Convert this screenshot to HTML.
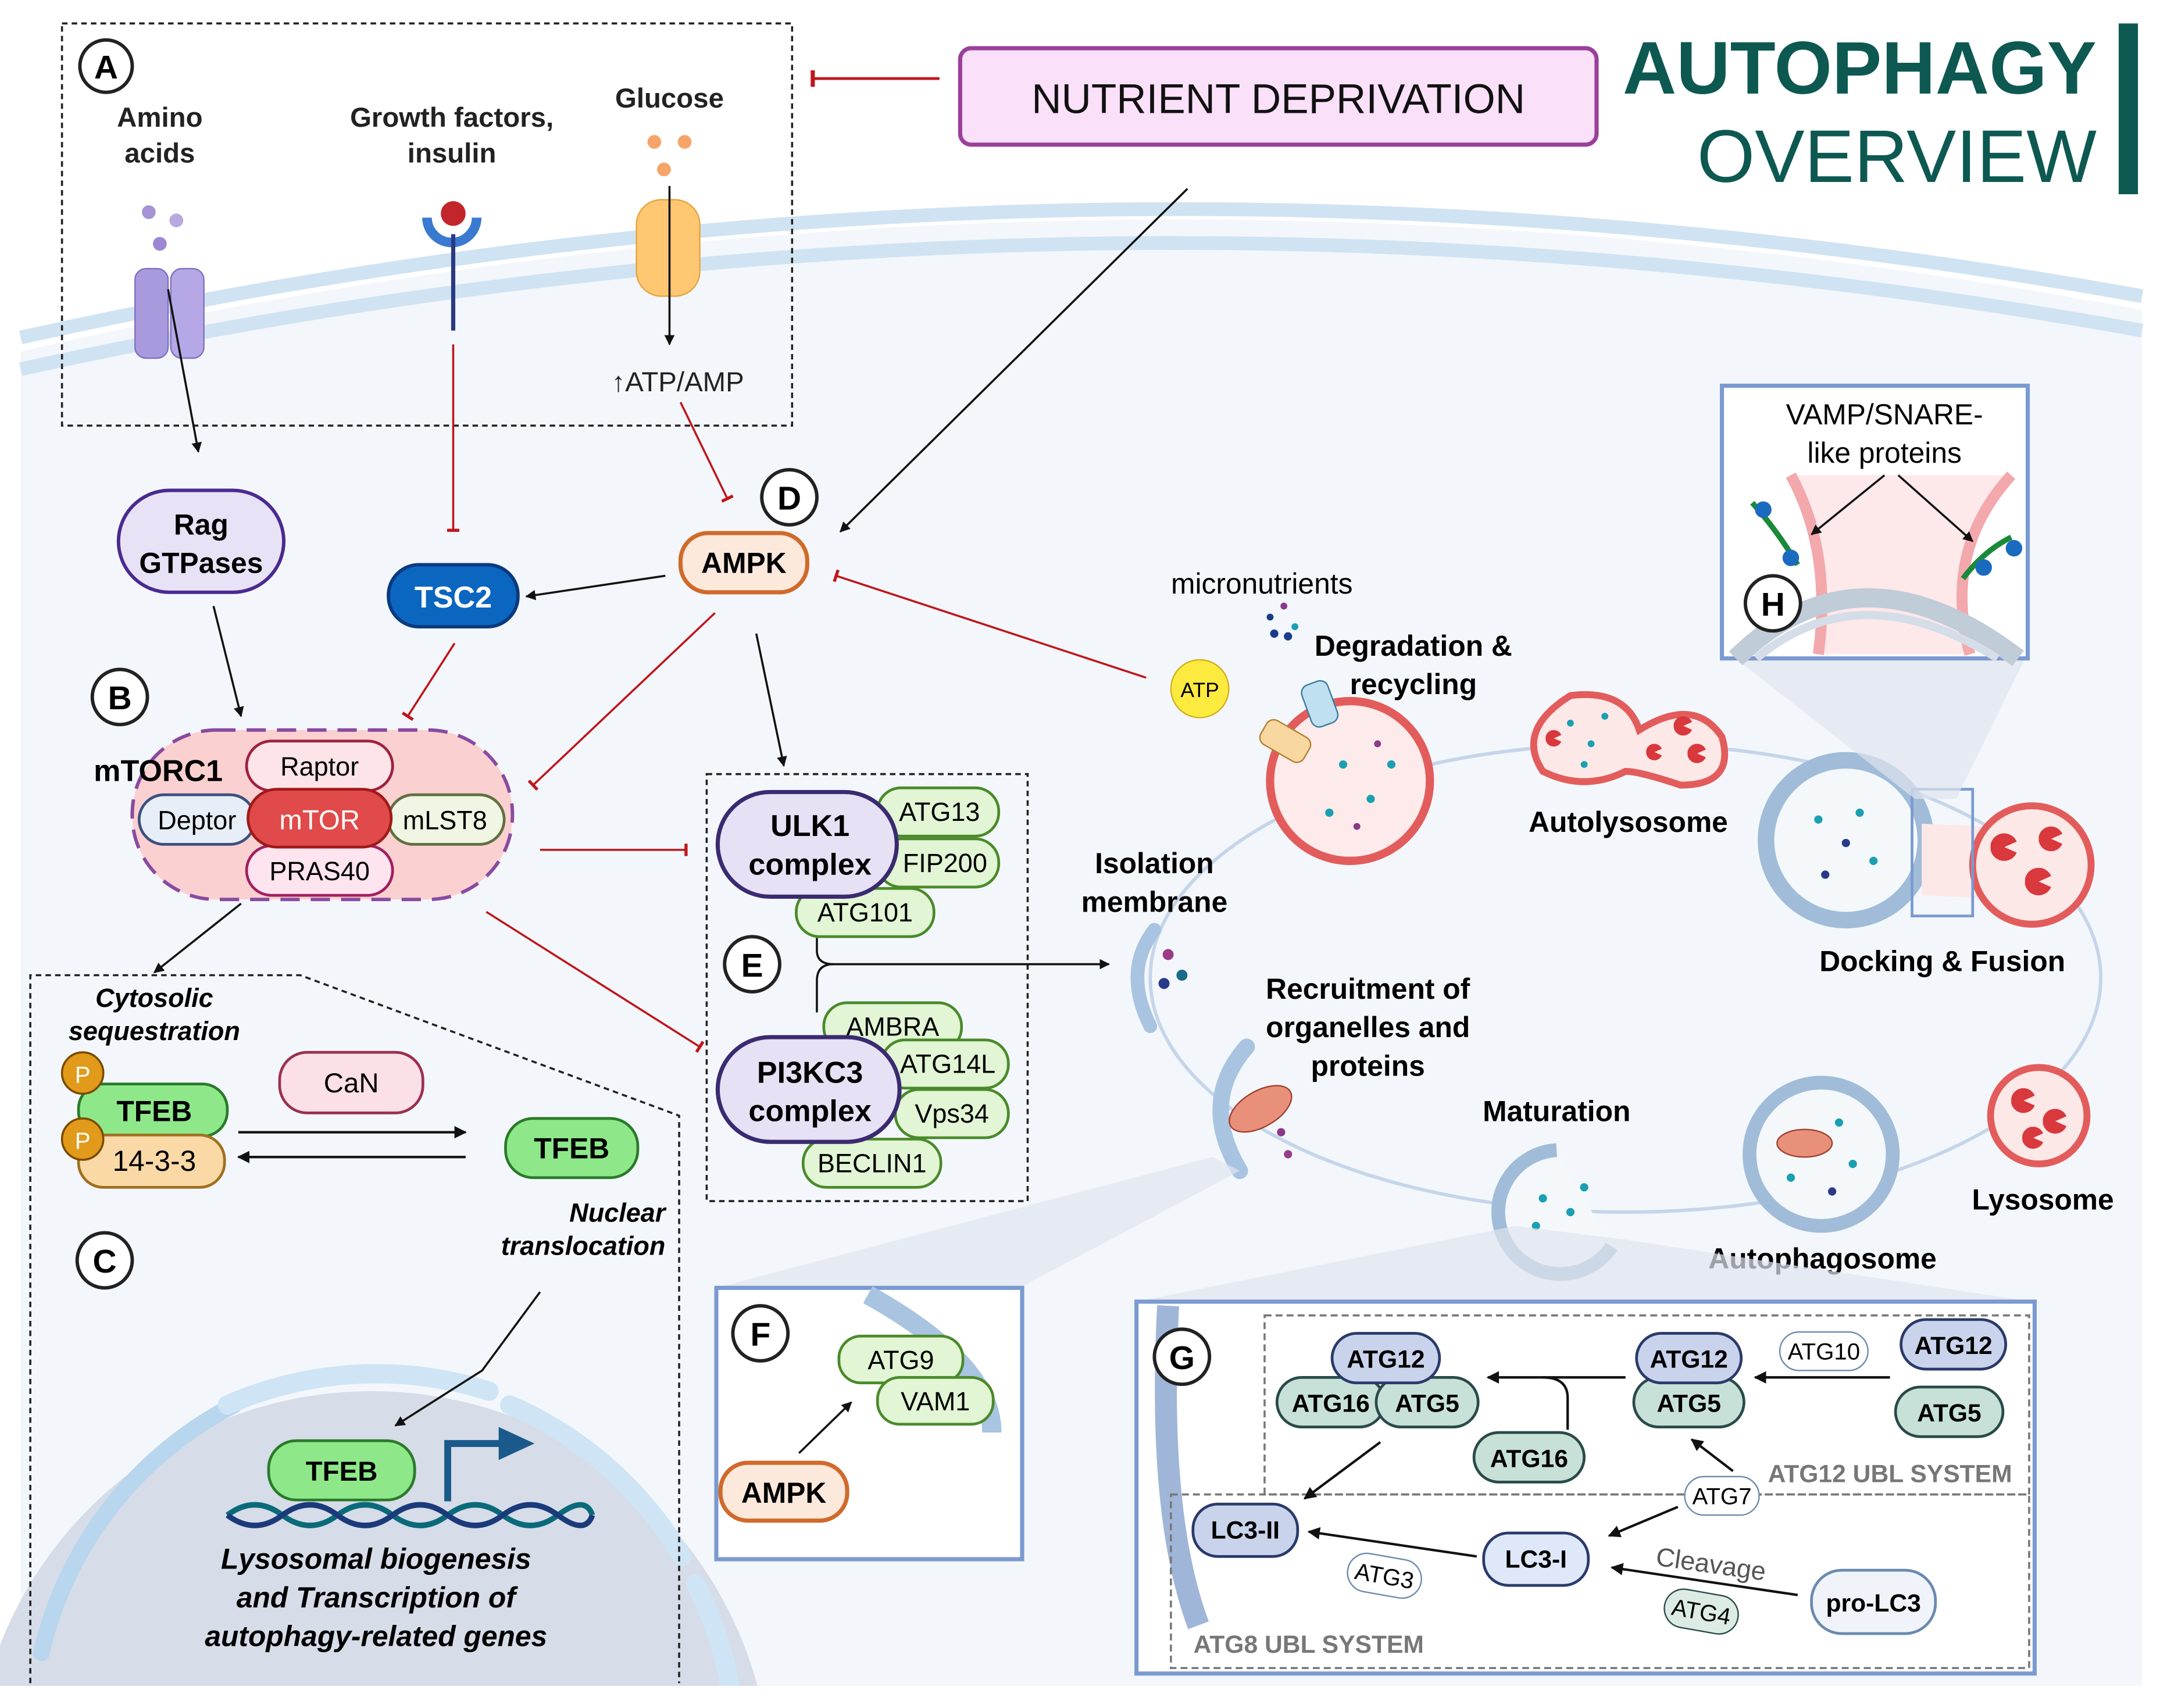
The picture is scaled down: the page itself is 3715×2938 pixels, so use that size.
<!DOCTYPE html>
<html><head><meta charset="utf-8"><style>
html,body{margin:0;padding:0;background:#fff;width:3715px;height:2938px;overflow:hidden}
svg{display:block}
text{font-family:"Liberation Sans",sans-serif}
</style></head><body>
<svg width="3715" height="2938" viewBox="0 0 1568 1240" xmlns="http://www.w3.org/2000/svg">
<defs>
<marker id="ab" viewBox="0 0 10 10" refX="9" refY="5" markerWidth="5" markerHeight="5" orient="auto"><path d="M0,0L10,5L0,10z" fill="#111"/></marker>
<marker id="tr" viewBox="0 0 10 10" refX="5" refY="5" markerWidth="6" markerHeight="6" orient="auto"><path d="M5,0V10" stroke="#c0161b" stroke-width="2.5"/></marker>
<clipPath id="cell"><rect x="0" y="0" width="1568" height="1224"/></clipPath>
<symbol id="pac" viewBox="-10 -10 20 20"><path d="M0,0 L9,-4 A10,10 0 1 0 9,4Z" fill="#d9383c"/></symbol>
</defs>
<rect width="1568" height="1240" fill="#fff"/>
<!-- cell -->
<path d="M15,255 Q780,80 1555,225 L1555,1224 L15,1224Z" fill="#f3f7fb"/>
<path d="M15,245 Q780,75 1555,215" fill="none" stroke="#d0e3f3" stroke-width="10"/>
<path d="M15,268 Q780,100 1555,240" fill="none" stroke="#d0e3f3" stroke-width="10"/>
<!-- nucleus -->
<g clip-path="url(#cell)">
<circle cx="270" cy="1300" r="290" fill="#d6dce8"/>
<path d="M30,1200 A270,270 0 0 1 170,1020" fill="none" stroke="#b8d6ee" stroke-width="12" stroke-linecap="round"/>
<path d="M165,1020 A270,270 0 0 1 355,1010" fill="none" stroke="#cfe5f5" stroke-width="14" stroke-linecap="round"/>
<path d="M370,1020 A270,270 0 0 1 495,1130" fill="none" stroke="#cfe5f5" stroke-width="14" stroke-linecap="round"/>
<path d="M505,1150 A270,270 0 0 1 530,1225" fill="none" stroke="#cfe5f5" stroke-width="14" stroke-linecap="round"/>
</g>
<!-- box A -->
<rect x="45" y="17" width="530" height="292" fill="none" stroke="#222" stroke-dasharray="4,3" stroke-width="1.5"/>
<circle cx="77" cy="48" r="19" fill="#fff" stroke="#222" stroke-width="2.5"/><text x="77" y="57" font-size="24" text-anchor="middle" font-weight="bold">A</text>
<text x="116" y="92" font-size="20" font-weight="bold" text-anchor="middle" fill="#222">Amino</text>
<text x="116" y="118" font-size="20" font-weight="bold" text-anchor="middle" fill="#222">acids</text>
<text x="328" y="92" font-size="20" font-weight="bold" text-anchor="middle" fill="#222">Growth factors,</text>
<text x="328" y="118" font-size="20" font-weight="bold" text-anchor="middle" fill="#222">insulin</text>
<text x="486" y="78" font-size="20" font-weight="bold" text-anchor="middle" fill="#222">Glucose</text>
<circle cx="108" cy="154" r="5" fill="#a693d6"/><circle cx="128" cy="160" r="5" fill="#b9a9e0"/><circle cx="116" cy="177" r="5" fill="#9d87d2"/>
<rect x="98" y="195" width="24" height="65" rx="8" fill="#a99ade" stroke="#8070c0"/><rect x="124" y="195" width="24" height="65" rx="8" fill="#b6a8e6" stroke="#8070c0"/>
<circle cx="475" cy="103" r="5" fill="#f6a46a"/><circle cx="497" cy="103" r="5" fill="#f6a46a"/><circle cx="482" cy="123" r="5" fill="#f6a46a"/>
<rect x="462" y="145" width="46" height="70" rx="18" fill="#ffc772" stroke="#e5a340"/>
<path d="M310,158 A18,18 0 0 0 346,158" fill="none" stroke="#3a7ad0" stroke-width="7"/><circle cx="329" cy="155" r="9" fill="#c2262a"/><line x1="329" y1="170" x2="329" y2="240" stroke="#2a3a80" stroke-width="3"/>
<line x1="122" y1="210" x2="144" y2="328" stroke="#111" stroke-width="1.5" marker-end="url(#ab)"/>
<line x1="486" y1="135" x2="486" y2="250" stroke="#111" stroke-width="1.5" marker-end="url(#ab)"/>
<text x="492" y="284" font-size="20" text-anchor="middle" fill="#222">↑ATP/AMP</text>
<!-- nutrient -->
<rect x="697" y="35" width="462" height="70" rx="8" fill="#fae0f8" stroke="#9a3f9a" stroke-width="3"/>
<text x="928" y="82" font-size="30" text-anchor="middle" fill="#111">NUTRIENT DEPRIVATION</text>
<line x1="682" y1="57" x2="590" y2="57" stroke="#c0161b" stroke-width="2" marker-end="url(#tr)"/>
<text x="1522" y="68" font-size="54" font-weight="bold" text-anchor="end" fill="#0d5952">AUTOPHAGY</text>
<text x="1522" y="132" font-size="54" text-anchor="end" fill="#0d5952">OVERVIEW</text>
<rect x="1538" y="17" width="14" height="124" fill="#0d5952"/>
<line x1="862" y1="137" x2="610" y2="386" stroke="#111" stroke-width="1.5" marker-end="url(#ab)"/>
<!-- inhibitions -->
<line x1="329" y1="250" x2="329" y2="385" stroke="#c0161b" stroke-width="1.5" marker-end="url(#tr)"/>
<line x1="494" y1="292" x2="528" y2="362" stroke="#c0161b" stroke-width="1.5" marker-end="url(#tr)"/>
<!-- Rag -->
<rect x="86" y="356" width="120" height="74" rx="37" fill="#e8e2f6" stroke="#4a2a90" stroke-width="2.5"/>
<text x="146" y="388" font-size="21" font-weight="bold" text-anchor="middle">Rag</text>
<text x="146" y="416" font-size="21" font-weight="bold" text-anchor="middle">GTPases</text>
<line x1="155" y1="440" x2="175" y2="520" stroke="#111" stroke-width="1.5" marker-end="url(#ab)"/>
<!-- TSC2 AMPK -->
<rect x="282" y="410" width="94" height="45" rx="22" fill="#0b66c0" stroke="#0a3a80" stroke-width="2.5"/>
<text x="329" y="441" font-size="22" font-weight="bold" text-anchor="middle" fill="#fff">TSC2</text>
<rect x="494" y="387" width="92" height="43" rx="20" fill="#fde9dc" stroke="#d06a2a" stroke-width="3"/>
<text x="540" y="416" font-size="21" font-weight="bold" text-anchor="middle">AMPK</text>
<circle cx="573" cy="361" r="20" fill="#fff" stroke="#222" stroke-width="2.5"/><text x="573" y="370" font-size="24" text-anchor="middle" font-weight="bold">D</text>
<line x1="483" y1="418" x2="382" y2="433" stroke="#111" stroke-width="1.5" marker-end="url(#ab)"/>
<line x1="330" y1="467" x2="296" y2="520" stroke="#c0161b" stroke-width="1.5" marker-end="url(#tr)"/>
<line x1="519" y1="445" x2="387" y2="570" stroke="#c0161b" stroke-width="1.5" marker-end="url(#tr)"/>
<line x1="549" y1="460" x2="569" y2="556" stroke="#111" stroke-width="1.5" marker-end="url(#ab)"/>
<line x1="832" y1="492" x2="607" y2="418" stroke="#c0161b" stroke-width="1.5" marker-end="url(#tr)"/>
<!-- mTORC1 -->
<circle cx="87" cy="506" r="20" fill="#fff" stroke="#222" stroke-width="2.5"/><text x="87" y="515" font-size="24" text-anchor="middle" font-weight="bold">B</text>
<rect x="96" y="530" width="276" height="123" rx="61" fill="#fbd0d0" stroke="#8a4aa0" stroke-width="2.5" stroke-dasharray="14,8"/>
<text x="68" y="567" font-size="22" font-weight="bold">mTORC1</text>
<rect x="179" y="538" width="106" height="36" rx="18" fill="#fde4e8" stroke="#a02040" stroke-width="2"/><text x="232" y="563" font-size="19" text-anchor="middle">Raptor</text>
<rect x="101" y="577" width="84" height="36" rx="18" fill="#e8eef8" stroke="#3a5080" stroke-width="2"/><text x="143" y="602" font-size="19" text-anchor="middle">Deptor</text>
<rect x="282" y="577" width="84" height="36" rx="18" fill="#f0f5e4" stroke="#607040" stroke-width="2"/><text x="323" y="602" font-size="19" text-anchor="middle">mLST8</text>
<rect x="179" y="614" width="106" height="36" rx="18" fill="#fde4ef" stroke="#a02060" stroke-width="2"/><text x="232" y="639" font-size="19" text-anchor="middle">PRAS40</text>
<rect x="180" y="573" width="104" height="42" rx="21" fill="#e04a4a" stroke="#a01a1a" stroke-width="2"/><text x="232" y="602" font-size="20" text-anchor="middle" fill="#fff">mTOR</text>
<line x1="392" y1="617" x2="498" y2="617" stroke="#c0161b" stroke-width="1.5" marker-end="url(#tr)"/>
<line x1="353" y1="662" x2="508" y2="760" stroke="#c0161b" stroke-width="1.5" marker-end="url(#tr)"/>
<line x1="175" y1="656" x2="112" y2="706" stroke="#111" stroke-width="1.5" marker-end="url(#ab)"/>
<!-- E box -->
<rect x="513" y="562" width="233" height="310" fill="none" stroke="#222" stroke-dasharray="4,3" stroke-width="1.5"/>
<g font-size="19" text-anchor="middle">
<rect x="637" y="572" width="88" height="35" rx="17" fill="#e2f5d4" stroke="#4a8a2a" stroke-width="2"/><text x="682" y="596">ATG13</text>
<rect x="637" y="609" width="88" height="35" rx="17" fill="#e2f5d4" stroke="#4a8a2a" stroke-width="2"/><text x="686" y="633">FIP200</text>
<rect x="578" y="645" width="100" height="35" rx="17" fill="#e2f5d4" stroke="#4a8a2a" stroke-width="2"/><text x="628" y="669">ATG101</text>
<rect x="598" y="728" width="100" height="35" rx="17" fill="#e2f5d4" stroke="#4a8a2a" stroke-width="2"/><text x="648" y="752">AMBRA</text>
<rect x="640" y="755" width="92" height="35" rx="17" fill="#e2f5d4" stroke="#4a8a2a" stroke-width="2"/><text x="688" y="779">ATG14L</text>
<rect x="650" y="791" width="82" height="35" rx="17" fill="#e2f5d4" stroke="#4a8a2a" stroke-width="2"/><text x="691" y="815">Vps34</text>
<rect x="583" y="827" width="100" height="35" rx="17" fill="#e2f5d4" stroke="#4a8a2a" stroke-width="2"/><text x="633" y="851">BECLIN1</text>
</g>
<rect x="521" y="575" width="130" height="76" rx="38" fill="#e6e1f4" stroke="#3a2a70" stroke-width="3"/>
<text x="588" y="607" font-size="22" font-weight="bold" text-anchor="middle">ULK1</text><text x="588" y="635" font-size="22" font-weight="bold" text-anchor="middle">complex</text>
<rect x="521" y="753" width="132" height="76" rx="38" fill="#e6e1f4" stroke="#3a2a70" stroke-width="3"/>
<text x="588" y="786" font-size="22" font-weight="bold" text-anchor="middle">PI3KC3</text><text x="588" y="814" font-size="22" font-weight="bold" text-anchor="middle">complex</text>
<path d="M593,681 V690 Q593,700 605,700 L805,700" fill="none" stroke="#111" stroke-width="1.5" marker-end="url(#ab)"/>
<path d="M593,735 V712 Q593,700 605,700" fill="none" stroke="#111" stroke-width="1.5"/>
<circle cx="546" cy="700" r="20" fill="#fff" stroke="#222" stroke-width="2.5"/><text x="546" y="709" font-size="24" text-anchor="middle" font-weight="bold">E</text>
<!-- C -->
<path d="M22,1222 V708 H218 L493,810 V1222" fill="none" stroke="#222" stroke-dasharray="4,3" stroke-width="1.5"/>
<text x="112" y="731" font-size="19" font-weight="bold" font-style="italic" text-anchor="middle">Cytosolic</text>
<text x="112" y="755" font-size="19" font-weight="bold" font-style="italic" text-anchor="middle">sequestration</text>
<rect x="57" y="787" width="108" height="38" rx="18" fill="#8ee88a" stroke="#2a7a2a" stroke-width="2"/><text x="112" y="814" font-size="21" font-weight="bold" text-anchor="middle">TFEB</text>
<rect x="57" y="824" width="106" height="38" rx="18" fill="#fbd9a6" stroke="#a07020" stroke-width="2"/><text x="112" y="850" font-size="21" text-anchor="middle">14-3-3</text>
<circle cx="60" cy="779" r="15" fill="#e29a1a" stroke="#7a4a00" stroke-width="1.5"/><text x="60" y="786" font-size="17" text-anchor="middle" fill="#fff">P</text>
<circle cx="60" cy="827" r="15" fill="#e29a1a" stroke="#7a4a00" stroke-width="1.5"/><text x="60" y="834" font-size="17" text-anchor="middle" fill="#fff">P</text>
<rect x="203" y="764" width="104" height="44" rx="20" fill="#fce0e8" stroke="#9a3050" stroke-width="2"/><text x="255" y="793" font-size="20" text-anchor="middle">CaN</text>
<line x1="173" y1="822" x2="338" y2="822" stroke="#111" stroke-width="1.8" marker-end="url(#ab)"/>
<line x1="338" y1="840" x2="173" y2="840" stroke="#111" stroke-width="1.8" marker-end="url(#ab)"/>
<rect x="367" y="812" width="96" height="43" rx="20" fill="#8ee88a" stroke="#2a7a2a" stroke-width="2"/><text x="415" y="841" font-size="21" font-weight="bold" text-anchor="middle">TFEB</text>
<text x="483" y="887" font-size="19" font-weight="bold" font-style="italic" text-anchor="end">Nuclear</text>
<text x="483" y="911" font-size="19" font-weight="bold" font-style="italic" text-anchor="end">translocation</text>
<circle cx="76" cy="915" r="20" fill="#fff" stroke="#222" stroke-width="2.5"/><text x="76" y="924" font-size="24" text-anchor="middle" font-weight="bold">C</text>
<path d="M392,938 L350,995 L287,1035" fill="none" stroke="#111" stroke-width="1.5" marker-end="url(#ab)"/>
<rect x="195" y="1046" width="106" height="43" rx="20" fill="#8ee88a" stroke="#2a7a2a" stroke-width="2"/><text x="248" y="1075" font-size="20" font-weight="bold" text-anchor="middle">TFEB</text>
<path d="M325,1090 V1048 H375" fill="none" stroke="#1a5a8a" stroke-width="5"/><path d="M362,1036 L388,1048 L362,1060z" fill="#1a5a8a"/>
<path d="M165,1100 Q185,1085 205,1100 T245,1100 T285,1100 T325,1100 T365,1100 T405,1100 T430,1100" fill="none" stroke="#0a6a7a" stroke-width="4"/>
<path d="M165,1100 Q185,1115 205,1100 T245,1100 T285,1100 T325,1100 T365,1100 T405,1100 T430,1100" fill="none" stroke="#1a3a7a" stroke-width="4"/>
<g font-size="21" font-weight="bold" font-style="italic" text-anchor="middle"><text x="273" y="1139">Lysosomal biogenesis</text><text x="273" y="1167">and Transcription of</text><text x="273" y="1195">autophagy-related genes</text></g>
<!-- autophagy cycle -->
<ellipse cx="1180" cy="710" rx="345" ry="170" fill="none" stroke="#c5d5ea" stroke-width="2.5"/>
<path d="M838,675 Q815,705 835,745" fill="none" stroke="#a8c4e0" stroke-width="10" stroke-linecap="round"/>
<circle cx="848" cy="693" r="4" fill="#9a3a8a"/><circle cx="858" cy="708" r="4" fill="#1a6a8a"/><circle cx="845" cy="714" r="4" fill="#2a3a8a"/>
<text x="838" y="634" font-size="21" font-weight="bold" text-anchor="middle">Isolation</text><text x="838" y="662" font-size="21" font-weight="bold" text-anchor="middle">membrane</text>
<g font-size="21" font-weight="bold" text-anchor="middle"><text x="993" y="725">Recruitment of</text><text x="993" y="753">organelles and</text><text x="993" y="781">proteins</text></g>
<path d="M905,760 Q870,800 900,850" fill="none" stroke="#a8c4e0" stroke-width="12" stroke-linecap="round"/>
<ellipse cx="915" cy="805" rx="25" ry="13" fill="#e8907a" stroke="#a04030" transform="rotate(-30 915 805)"/>
<circle cx="930" cy="822" r="3" fill="#8a3a8a"/><circle cx="935" cy="838" r="3" fill="#9a3a8a"/>
<text x="1130" y="814" font-size="21" font-weight="bold" text-anchor="middle">Maturation</text>
<path d="M1170,905 A45,45 0 1 1 1130,835" fill="#f4f8fb" stroke="#a0bcd8" stroke-width="10"/>
<g fill="#1aa0b0"><circle cx="1120" cy="870" r="3"/><circle cx="1140" cy="880" r="3"/><circle cx="1150" cy="862" r="3"/><circle cx="1115" cy="890" r="3"/></g>
<circle cx="1322" cy="838" r="52" fill="#f4f8fb" stroke="#a0bcd8" stroke-width="10"/>
<ellipse cx="1310" cy="830" rx="20" ry="10" fill="#e8907a" stroke="#a04030"/>
<g fill="#1aa0b0"><circle cx="1335" cy="815" r="3"/><circle cx="1345" cy="845" r="3"/><circle cx="1300" cy="855" r="3"/><circle cx="1330" cy="865" r="3" fill="#2a3a8a"/></g>
<text x="1323" y="921" font-size="21" font-weight="bold" text-anchor="middle">Autophagosome</text>
<circle cx="1480" cy="810" r="35" fill="#fde8e8" stroke="#e35c5c" stroke-width="5"/>
<use href="#pac" x="1460" y="790" width="18" height="18"/><use href="#pac" x="1483" y="805" width="18" height="18"/><use href="#pac" x="1468" y="818" width="16" height="16"/>
<text x="1483" y="878" font-size="21" font-weight="bold" text-anchor="middle">Lysosome</text>
<circle cx="1340" cy="610" r="58" fill="#f4f8fb" stroke="#a0bcd8" stroke-width="12"/>
<g fill="#1aa0b0"><circle cx="1320" cy="595" r="3"/><circle cx="1350" cy="590" r="3"/><circle cx="1360" cy="625" r="3"/><circle cx="1325" cy="635" r="3" fill="#2a3a8a"/><circle cx="1340" cy="612" r="3" fill="#2a3a8a"/></g>
<path d="M1395,598 L1440,600 L1440,652 L1395,650Z" fill="#fde8e8"/>
<circle cx="1475" cy="628" r="43" fill="#fde8e8" stroke="#e35c5c" stroke-width="5"/>
<rect x="1388" y="573" width="44" height="92" fill="none" stroke="#7a9ad0" stroke-width="2"/>
<use href="#pac" x="1445" y="605" width="20" height="20"/><use href="#pac" x="1470" y="630" width="20" height="20"/><use href="#pac" x="1480" y="600" width="18" height="18"/>
<text x="1410" y="705" font-size="21" font-weight="bold" text-anchor="middle">Docking &amp; Fusion</text>
<path d="M1140,505 Q1180,500 1190,530 Q1230,505 1250,535 Q1260,570 1220,570 Q1190,560 1180,560 Q1150,575 1120,560 Q1100,530 1140,505z" fill="#fde8e8" stroke="#e35c5c" stroke-width="5"/>
<g fill="#1aa0b0"><circle cx="1140" cy="525" r="2.5"/><circle cx="1155" cy="540" r="2.5"/><circle cx="1165" cy="520" r="2.5"/><circle cx="1150" cy="555" r="2.5"/></g>
<use href="#pac" x="1122" y="530" width="12" height="12"/><use href="#pac" x="1215" y="520" width="14" height="14"/><use href="#pac" x="1225" y="540" width="14" height="14"/><use href="#pac" x="1195" y="540" width="12" height="12"/>
<text x="1182" y="604" font-size="21" font-weight="bold" text-anchor="middle">Autolysosome</text>
<circle cx="980" cy="567" r="58" fill="#fdeaea" stroke="#e35c5c" stroke-width="6"/>
<g fill="#1aa0b0"><circle cx="975" cy="555" r="3"/><circle cx="995" cy="580" r="3"/><circle cx="965" cy="590" r="3"/><circle cx="1010" cy="555" r="3"/><circle cx="985" cy="600" r="2.5" fill="#8a3a8a"/><circle cx="1000" cy="540" r="2.5" fill="#8a3a8a"/></g>
<rect x="948" y="495" width="20" height="32" rx="6" fill="#bfe0f0" stroke="#3a7aa0" transform="rotate(-20 958 511)"/>
<rect x="915" y="528" width="36" height="20" rx="6" fill="#f8d7a0" stroke="#b08030" transform="rotate(30 933 538)"/>
<circle cx="871" cy="500" r="21" fill="#fdea3e" stroke="#d0b020"/><text x="871" y="506" font-size="15" text-anchor="middle">ATP</text>
<g fill="#1a3a8a"><circle cx="922" cy="448" r="2.5"/><circle cx="932" cy="440" r="2.5" fill="#8a3a8a"/><circle cx="940" cy="455" r="2.5" fill="#1aa0b0"/><circle cx="925" cy="460" r="3"/><circle cx="935" cy="462" r="3"/></g>
<text x="916" y="431" font-size="21" text-anchor="middle">micronutrients</text>
<text x="1026" y="476" font-size="21" font-weight="bold" text-anchor="middle">Degradation &amp;</text><text x="1026" y="504" font-size="21" font-weight="bold" text-anchor="middle">recycling</text>
<!-- H -->
<path d="M1260,478 L1390,580 L1420,580 L1470,478z" fill="#dfe4ee" opacity="0.7"/>
<rect x="1250" y="280" width="222" height="198" fill="#fff" stroke="#7a9ad0" stroke-width="3"/>
<path d="M1300,345 Q1330,400 1320,475 L1430,475 Q1410,400 1460,345Z" fill="#fde8ea"/>
<path d="M1300,345 Q1330,400 1320,475 M1460,345 Q1410,400 1430,475" fill="none" stroke="#f3a8ac" stroke-width="8"/>
<path d="M1260,478 Q1350,390 1465,478" fill="none" stroke="#c0ccd8" stroke-width="14"/>
<path d="M1275,478 Q1350,415 1450,478" fill="none" stroke="#d4dde8" stroke-width="6"/>
<path d="M1272,365 Q1290,385 1305,410 M1460,390 Q1440,400 1425,420" fill="none" stroke="#1a8a3a" stroke-width="4"/>
<circle cx="1280" cy="370" r="6" fill="#1a6ac0"/><circle cx="1300" cy="405" r="6" fill="#1a6ac0"/><circle cx="1462" cy="398" r="6" fill="#1a6ac0"/><circle cx="1440" cy="412" r="6" fill="#1a6ac0"/>
<text x="1368" y="308" font-size="21" text-anchor="middle">VAMP/SNARE-</text><text x="1368" y="336" font-size="21" text-anchor="middle">like proteins</text>
<line x1="1368" y1="345" x2="1315" y2="388" stroke="#111" stroke-width="1.5" marker-end="url(#ab)"/>
<line x1="1378" y1="345" x2="1432" y2="393" stroke="#111" stroke-width="1.5" marker-end="url(#ab)"/>
<circle cx="1287" cy="438" r="20" fill="#fff" stroke="#222" stroke-width="2.5"/><text x="1287" y="447" font-size="24" text-anchor="middle" font-weight="bold">H</text>
<!-- F -->
<path d="M520,935 L880,840 L900,850 L740,935z" fill="#dfe4ee" opacity="0.7"/>
<rect x="520" y="935" width="222" height="197" fill="#fff" stroke="#7a9ad0" stroke-width="3"/>
<path d="M630,940 Q720,990 720,1040" fill="none" stroke="#a8c4e0" stroke-width="14"/>
<circle cx="552" cy="968" r="20" fill="#fff" stroke="#222" stroke-width="2.5"/><text x="552" y="977" font-size="24" text-anchor="middle" font-weight="bold">F</text>
<rect x="609" y="970" width="90" height="34" rx="16" fill="#e2f5d4" stroke="#4a8a2a" stroke-width="2"/><text x="654" y="994" font-size="19" text-anchor="middle">ATG9</text>
<rect x="637" y="1000" width="84" height="34" rx="16" fill="#e2f5d4" stroke="#4a8a2a" stroke-width="2"/><text x="679" y="1024" font-size="19" text-anchor="middle">VAM1</text>
<rect x="523" y="1062" width="92" height="42" rx="20" fill="#fde9dc" stroke="#d06a2a" stroke-width="3"/><text x="569" y="1091" font-size="21" font-weight="bold" text-anchor="middle">AMPK</text>
<line x1="580" y1="1055" x2="618" y2="1018" stroke="#111" stroke-width="1.5" marker-end="url(#ab)"/>
<!-- G -->
<path d="M825,945 L1100,890 L1180,900 L1475,945z" fill="#dfe4ee" opacity="0.7"/>
<rect x="825" y="945" width="652" height="270" fill="#fff" stroke="#7a9ad0" stroke-width="3"/>
<path d="M848,948 Q840,1100 870,1180" fill="none" stroke="#a0b6d8" stroke-width="16"/>
<rect x="918" y="955" width="555" height="130" fill="none" stroke="#777" stroke-dasharray="5,3" stroke-width="1.5"/>
<rect x="850" y="1085" width="623" height="126" fill="none" stroke="#777" stroke-dasharray="5,3" stroke-width="1.5"/>
<circle cx="858" cy="985" r="20" fill="#fff" stroke="#222" stroke-width="2.5"/><text x="858" y="994" font-size="24" text-anchor="middle" font-weight="bold">G</text>
<g font-size="18" font-weight="bold" text-anchor="middle">
<rect x="927" y="1000" width="78" height="36" rx="18" fill="#c7e1d8" stroke="#2a4a4a" stroke-width="2"/><text x="966" y="1025">ATG16</text>
<rect x="999" y="1000" width="74" height="36" rx="18" fill="#c7e1d8" stroke="#2a4a4a" stroke-width="2"/><text x="1036" y="1025">ATG5</text>
<rect x="967" y="968" width="78" height="36" rx="18" fill="#c9d3ec" stroke="#2a3a6a" stroke-width="2"/><text x="1006" y="993">ATG12</text>
<rect x="1186" y="1000" width="80" height="36" rx="18" fill="#c7e1d8" stroke="#2a4a4a" stroke-width="2"/><text x="1226" y="1025">ATG5</text>
<rect x="1188" y="968" width="76" height="36" rx="18" fill="#c9d3ec" stroke="#2a3a6a" stroke-width="2"/><text x="1226" y="993">ATG12</text>
<rect x="1380" y="958" width="76" height="36" rx="18" fill="#c9d3ec" stroke="#2a3a6a" stroke-width="2"/><text x="1418" y="983">ATG12</text>
<rect x="1376" y="1007" width="78" height="36" rx="18" fill="#c7e1d8" stroke="#2a4a4a" stroke-width="2"/><text x="1415" y="1032">ATG5</text>
<rect x="1070" y="1040" width="80" height="36" rx="18" fill="#c7e1d8" stroke="#2a4a4a" stroke-width="2"/><text x="1110" y="1065">ATG16</text>
<rect x="866" y="1092" width="76" height="38" rx="18" fill="#c9d3ec" stroke="#2a3a6a" stroke-width="2"/><text x="904" y="1117">LC3-II</text>
<rect x="1077" y="1113" width="76" height="38" rx="18" fill="#dfe8f8" stroke="#2a3a6a" stroke-width="2"/><text x="1115" y="1138">LC3-I</text>
<rect x="1315" y="1140" width="90" height="46" rx="22" fill="#f0f4fa" stroke="#6a8ab0" stroke-width="2"/><text x="1360" y="1170">pro-LC3</text>
</g>
<g font-size="17" text-anchor="middle">
<rect x="1292" y="967" width="64" height="28" rx="14" fill="#fff" stroke="#6a8ab0"/><text x="1324" y="987">ATG10</text>
<rect x="1223" y="1072" width="54" height="28" rx="14" fill="#fff" stroke="#6a8ab0"/><text x="1250" y="1092">ATG7</text>
<rect x="978" y="1130" width="54" height="28" rx="14" fill="#fff" stroke="#6a8ab0" transform="rotate(10 1005 1144)"/><text x="1005" y="1150" transform="rotate(10 1005 1144)">ATG3</text>
<rect x="1208" y="1156" width="54" height="28" rx="14" fill="#dcebe4" stroke="#2a4a4a" transform="rotate(10 1235 1170)"/><text x="1235" y="1176" transform="rotate(10 1235 1170)">ATG4</text>
<text x="1242" y="1142" font-size="19" fill="#555" transform="rotate(8 1242 1136)">Cleavage</text>
</g>
<text x="1372" y="1076" font-size="18" font-weight="bold" text-anchor="middle" fill="#777">ATG12 UBL SYSTEM</text>
<text x="950" y="1200" font-size="18" font-weight="bold" text-anchor="middle" fill="#777">ATG8 UBL SYSTEM</text>
<g stroke="#111" stroke-width="1.8" fill="none">
<line x1="1372" y1="1000" x2="1274" y2="1000" marker-end="url(#ab)"/>
<line x1="1180" y1="1000" x2="1080" y2="1000" marker-end="url(#ab)"/>
<path d="M1138,1038 V1015 Q1138,1000 1120,1000"/>
<line x1="1002" y1="1047" x2="947" y2="1088" marker-end="url(#ab)"/>
<line x1="1258" y1="1068" x2="1228" y2="1045" marker-end="url(#ab)"/>
<line x1="1218" y1="1094" x2="1168" y2="1115" marker-end="url(#ab)"/>
<line x1="1072" y1="1130" x2="950" y2="1112" marker-end="url(#ab)"/>
<line x1="1305" y1="1158" x2="1170" y2="1138" marker-end="url(#ab)"/>
</g>
</svg>
</body></html>
